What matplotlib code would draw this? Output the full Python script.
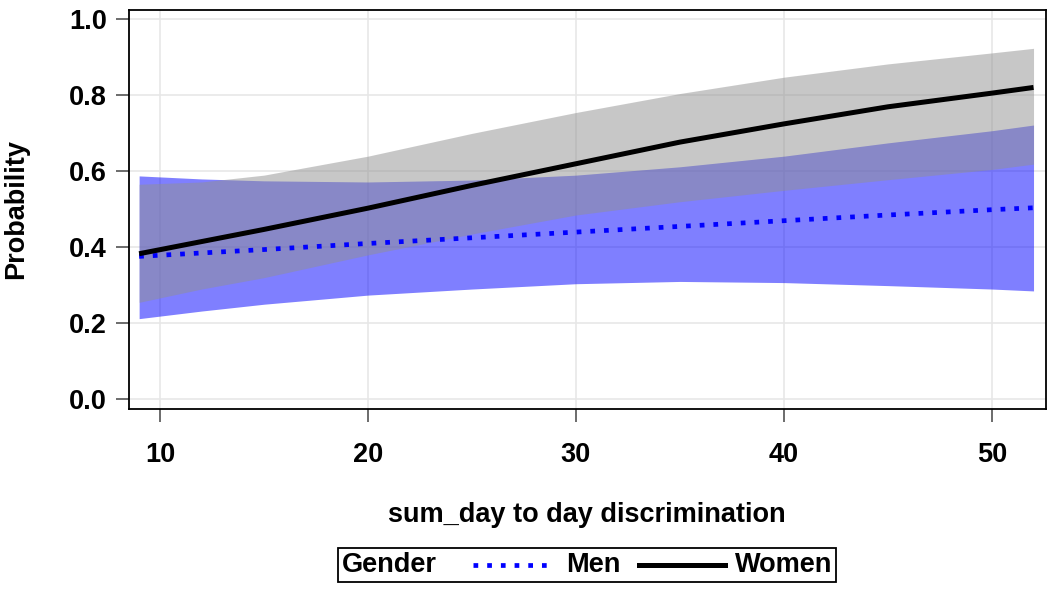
import matplotlib
matplotlib.use("Agg")
import matplotlib.pyplot as plt
from matplotlib.lines import Line2D
from matplotlib.offsetbox import AnchoredOffsetbox, HPacker, TextArea, DrawingArea

plt.rcParams['font.family'] = ['Liberation Sans', 'DejaVu Sans']
plt.rcParams['font.weight'] = 'bold'

# predicted probabilities
x = [9, 12, 15, 20, 25, 30, 35, 40, 45, 50, 52]

women = [0.383, 0.415, 0.447, 0.503, 0.563, 0.620, 0.677, 0.725, 0.770, 0.806, 0.821]
women_lo = [0.255, 0.290, 0.320, 0.380, 0.435, 0.485, 0.520, 0.550, 0.578, 0.605, 0.619]
women_hi = [0.566, 0.572, 0.590, 0.640, 0.700, 0.755, 0.805, 0.848, 0.883, 0.912, 0.924]

men = [0.376, 0.385, 0.394, 0.410, 0.425, 0.440, 0.455, 0.470, 0.485, 0.499, 0.504]
men_lo = [0.212, 0.232, 0.250, 0.274, 0.290, 0.304, 0.310, 0.307, 0.299, 0.290, 0.285]
men_hi = [0.588, 0.580, 0.575, 0.572, 0.577, 0.590, 0.612, 0.640, 0.675, 0.707, 0.722]

xticks = [10, 20, 30, 40, 50]
yticks = [0.0, 0.2, 0.4, 0.6, 0.8, 1.0]

fs = 19.5

fig = plt.figure(figsize=(10.5, 5.95), dpi=100)
ax = fig.add_axes([0.1224, 0.3126, 0.8738, 0.6706])

# bands: blue first, gray on top of it
ax.fill_between(x, men_lo, men_hi, color='#0000ff', alpha=0.5, lw=0)
ax.fill_between(x, women_lo, women_hi, color='#919191', alpha=0.5, lw=0)

ax.plot(x, men, color='#0000ff', lw=3.4, dashes=(1, 1.9), dash_capstyle='butt')
ax.plot(x, women, color='black', lw=3.6, solid_capstyle='butt')

ax.set_xlim(8.49, 52.6)
ax.set_ylim(-0.026, 1.025)
ax.set_xticks(xticks)
ax.set_yticks(yticks)
ax.set_yticklabels(['%.1f' % v for v in yticks])
ax.grid(True, color='#e6e6e6', lw=1.1)
ax.set_axisbelow(True)

for s in ax.spines.values():
    s.set_linewidth(1.3)
    s.set_color('black')
ax.tick_params(axis='both', direction='out', length=9.5, width=1.1,
               color='#444444', labelsize=fs)
ax.tick_params(axis='x', pad=14)
ax.tick_params(axis='y', pad=6)

ax.set_xlabel('sum_day to day discrimination', fontsize=fs, fontweight='bold')
ax.xaxis.set_label_coords(0.5, -0.232)
ax.set_ylabel('Probability', fontsize=fs, fontweight='bold', labelpad=29)

# legend with the title inline on the left
def handle(color, dots, w):
    da = DrawingArea(w, 14, 0, 0)
    if dots:
        ln = Line2D([0, w], [7, 7], color=color, lw=3.4, dashes=(1, 1.9),
                    dash_capstyle='butt')
    else:
        ln = Line2D([0, w], [7, 7], color=color, lw=3.6)
    da.add_artist(ln)
    return da

def gap(w):
    return DrawingArea(w, 14, 0, 0)

tp = dict(size=fs, weight='bold')
items = [TextArea('Gender', textprops=tp), gap(26),
         handle('#0000ff', True, 55), gap(12),
         TextArea('Men', textprops=tp), gap(13),
         handle('black', False, 62), gap(7),
         TextArea('Women', textprops=tp)]
box = HPacker(children=items, align='center', pad=0, sep=0)
anc = AnchoredOffsetbox(loc='upper center', child=box, pad=0.3, borderpad=0,
                        frameon=True, bbox_to_anchor=(0.5, -0.348),
                        bbox_transform=ax.transAxes)
anc.patch.set_edgecolor('black')
anc.patch.set_linewidth(1.3)
ax.add_artist(anc)

fig.savefig('out.png', dpi=100)
